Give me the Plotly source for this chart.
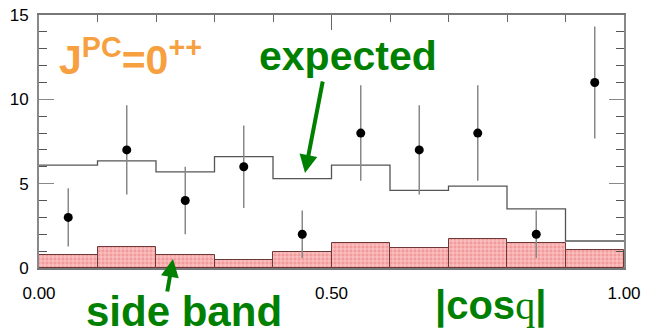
import numpy as np
import plotly.graph_objects as go

# ---- data ----
bin_edges = [0.0, 0.1, 0.2, 0.3, 0.4, 0.5, 0.6, 0.7, 0.8, 0.9, 1.0]
expected = [6.1, 6.35, 5.7, 6.6, 5.3, 6.1, 4.6, 4.85, 3.5, 1.6]
side_band = [0.8, 1.25, 0.8, 0.45, 0.95, 1.5, 1.2, 1.7, 1.5, 1.05]
data_counts = [3, 7, 4, 6, 2, 8, 7, 8, 2, 11]
x_ticks = [0.0, 0.5, 1.0]
x_tick_labels = ["0.00", "0.50", "1.00"]
y_ticks = [0, 5, 10, 15]

edges = np.array(bin_edges)
centers = (edges[:-1] + edges[1:]) / 2
widths = np.diff(edges)
errors = np.sqrt(np.array(data_counts, dtype=float))

FONT = "Liberation Sans, Arial, sans-serif"
GREEN = "#008000"
ORANGE = "#F7A040"

fig = go.Figure()

fig.add_trace(go.Bar(
    x=centers, y=side_band, width=widths,
    marker=dict(color="#f39a9a",
                line=dict(color="#6a3a3a", width=1),
                pattern=dict(shape="+", fgcolor="#ffdcdc", bgcolor="#f39a9a",
                             size=4, solidity=0.3, fillmode="replace")),
    showlegend=False, hoverinfo="skip"))

fig.add_trace(go.Scatter(
    x=list(edges), y=expected + [expected[-1]], mode="lines",
    line=dict(color="#555555", width=1.3, shape="hv"),
    showlegend=False, hoverinfo="skip"))

fig.add_trace(go.Scatter(
    x=centers, y=data_counts, mode="markers",
    marker=dict(color="black", size=9),
    error_y=dict(type="data", array=errors, color="#888888", thickness=1.5, width=0),
    showlegend=False, cliponaxis=False))

# pixel -> paper helpers (plot area: x 39..624, y 268..15)
def px_(p):
    return (p - 39) / 585.0

def py_(p):
    return (268 - p) / 253.0

annotations = [
    dict(x=px_(130), y=py_(57), text="<b>J<sup>PC</sup>=0<sup>++</sup></b>", showarrow=False,
         font=dict(family=FONT, size=41, color=ORANGE), xanchor="center", yanchor="middle"),
    dict(x=px_(348), y=py_(56), text="<b>expected</b>", showarrow=False,
         font=dict(family=FONT, size=41, color=GREEN), xanchor="center", yanchor="middle"),
    dict(x=px_(184), y=py_(312), text="<b>side band</b>", showarrow=False,
         font=dict(family=FONT, size=42, color=GREEN), xanchor="center", yanchor="middle"),
    dict(x=px_(490), y=py_(305), text="<b>|cos<span style=\"font-family:'Liberation Serif', serif;font-weight:normal\">q</span>|</b>",
         showarrow=False,
         font=dict(family=FONT, size=40, color=GREEN), xanchor="center", yanchor="middle"),
    dict(x=px_(305), y=py_(173), ax=18, ay=-93, text="", showarrow=True,
         arrowhead=2, arrowsize=0.9, arrowwidth=4, arrowcolor=GREEN),
    dict(x=px_(173), y=py_(259), ax=-6, ay=34, text="", showarrow=True,
         arrowhead=2, arrowsize=0.9, arrowwidth=4, arrowcolor=GREEN),
]
for a in annotations:
    a["xref"] = "paper"
    a["yref"] = "paper"
    if a.get("showarrow"):
        a["axref"] = "pixel"
        a["ayref"] = "pixel"

fig.update_layout(
    width=647, height=334,
    margin=dict(l=39, r=23, t=15, b=66, autoexpand=False),
    paper_bgcolor="white", plot_bgcolor="white",
    bargap=0,
    font=dict(family=FONT, color="black"),
    annotations=annotations,
    xaxis=dict(range=[0, 1], tickvals=x_ticks, ticktext=x_tick_labels,
               ticks="inside", ticklen=15, tickwidth=1.2, tickcolor="#666666",
               minor=dict(dtick=0.1, ticks="inside", ticklen=7, tickcolor="#666666", tickwidth=1.2),
               showline=True, linecolor="#777777", linewidth=1.5, mirror="ticks",
               showgrid=False, zeroline=False, layer="below traces", automargin=False,
               tickfont=dict(family=FONT, size=17, color="black"), ticklabelstandoff=9),
    yaxis=dict(range=[0, 15], tickvals=y_ticks, automargin=False,
               ticks="inside", ticklen=15, tickwidth=1.2, tickcolor="#888888",
               minor=dict(dtick=1, ticks="inside", ticklen=8, tickcolor="#555555", tickwidth=1.2),
               showline=True, linecolor="#888888", linewidth=2, mirror="ticks",
               showgrid=False, zeroline=False,
               tickfont=dict(family=FONT, size=17, color="black"), ticklabelstandoff=5),
)

fig.write_html("out.html")
